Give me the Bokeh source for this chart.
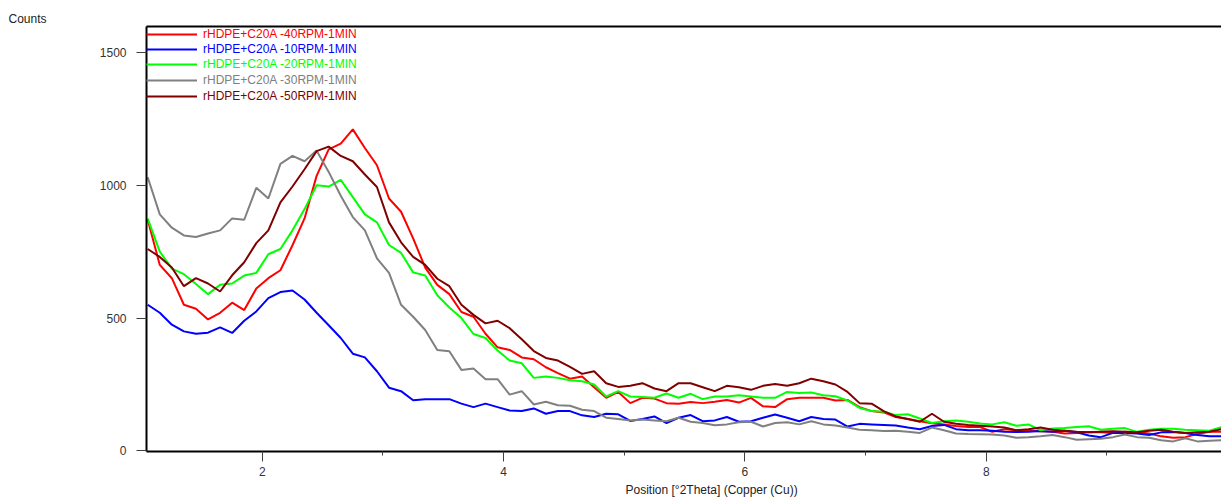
import numpy as np
from bokeh.plotting import figure
from bokeh.models import (Legend, LegendItem, LinearAxis, FixedTicker,
                          Range1d, Title)
from bokeh.embed import file_html
from bokeh.resources import INLINE

# ---- data (°2Theta positions and counts) ----
two_theta = np.round(np.arange(1.05, 9.96, 0.1), 2)

rpm40 = [870, 700, 650, 550, 535, 495, 520, 558, 530, 611,
         650, 680, 774, 875, 1035, 1135, 1156, 1210, 1140, 1075,
         950, 900, 800, 690, 625, 590, 523, 505, 441, 390,
         380, 352, 345, 315, 293, 272, 280, 240, 200, 222,
         180, 200, 197, 180, 178, 184, 180, 185, 192, 182,
         200, 168, 165, 195, 200, 200, 200, 190, 192, 165,
         150, 145, 128, 120, 112, 104, 100, 94, 90, 90,
         72, 82, 78, 76, 74, 72, 66, 68, 71, 70,
         68, 72, 70, 66, 55, 50, 52, 64, 72, 72]

rpm10 = [550, 520, 475, 450, 441, 445, 465, 444, 490, 525,
         575, 598, 604, 570, 520, 473, 425, 366, 352, 300,
         238, 225, 191, 195, 195, 195, 178, 165, 178, 165,
         152, 150, 160, 140, 150, 150, 134, 128, 140, 138,
         113, 120, 130, 105, 125, 135, 112, 115, 128, 110,
         112, 125, 137, 125, 112, 128, 120, 118, 92, 102,
         100, 98, 96, 88, 82, 94, 98, 82, 78, 78,
         76, 72, 71, 72, 75, 72, 76, 70, 58, 52,
         68, 68, 66, 60, 70, 71, 68, 60, 55, 55]

rpm20 = [874, 750, 686, 665, 628, 590, 625, 630, 660, 670,
         740, 760, 830, 910, 1000, 995, 1020, 955, 890, 860,
         775, 745, 672, 660, 586, 540, 500, 440, 425, 378,
         340, 330, 275, 280, 275, 266, 262, 250, 205, 225,
         205, 203, 200, 216, 200, 215, 195, 205, 205, 210,
         205, 200, 200, 222, 218, 220, 210, 206, 190, 162,
         150, 148, 135, 138, 122, 105, 112, 115, 110, 103,
         100, 108, 95, 100, 78, 85, 86, 90, 93, 80,
         84, 86, 72, 80, 84, 84, 80, 78, 76, 90]

rpm30 = [1030, 890, 840, 811, 805, 818, 830, 875, 870, 990,
         950, 1080, 1110, 1090, 1130, 1050, 960, 880, 830, 725,
         670, 550, 505, 455, 380, 375, 305, 310, 270, 270,
         212, 225, 175, 185, 172, 170, 155, 150, 125, 120,
         115, 118, 115, 112, 125, 110, 105, 97, 100, 108,
         110, 92, 105, 108, 100, 112, 100, 96, 88, 80,
         78, 75, 76, 72, 68, 88, 78, 66, 64, 63,
         62, 58, 50, 52, 55, 60, 52, 42, 44, 46,
         52, 62, 52, 50, 40, 36, 48, 36, 38, 40]

rpm50 = [760, 730, 690, 620, 650, 630, 600, 661, 710, 782,
         830, 935, 995, 1060, 1128, 1145, 1110, 1090, 1040, 993,
         860, 785, 730, 700, 648, 620, 550, 512, 480, 490,
         462, 420, 376, 350, 340, 316, 290, 300, 255, 241,
         245, 255, 235, 225, 255, 255, 240, 225, 245, 240,
         230, 245, 252, 245, 255, 272, 262, 250, 222, 180,
         178, 150, 130, 120, 110, 140, 110, 102, 98, 95,
         92, 88, 78, 82, 88, 80, 76, 72, 70, 72,
         74, 72, 70, 76, 80, 72, 68, 70, 72, 82]

names = ["rHDPE+C20A -40RPM-1MIN", "rHDPE+C20A -10RPM-1MIN",
         "rHDPE+C20A -20RPM-1MIN", "rHDPE+C20A -30RPM-1MIN",
         "rHDPE+C20A -50RPM-1MIN"]
series = [rpm40, rpm10, rpm20, rpm30, rpm50]
colors = ["#FF0000", "#0000FF", "#00FF00", "#808080", "#800000"]

x_ticks = [2, 4, 6, 8]
x_minor = [3, 5, 7, 9]
y_ticks = [0, 500, 1000, 1500]

FONT = "Liberation Sans"

p = figure(width=1221, height=501, output_backend="svg", toolbar_location=None,
           x_range=Range1d(1.04, 9.95), y_range=Range1d(-2, 1597),
           min_border_left=146, min_border_right=0, min_border_top=26,
           min_border_bottom=50)
p.xgrid.visible = False
p.ygrid.visible = False
p.outline_line_color = None
p.background_fill_color = "white"

for ax in (p.xaxis[0], p.yaxis[0]):
    ax.axis_line_color = "black"
    ax.axis_line_width = 2
    ax.major_tick_line_color = "#404040"
    ax.major_tick_line_width = 1
    ax.major_tick_in = 0
    ax.major_tick_out = 10
    ax.major_label_text_font = FONT
    ax.major_label_text_font_size = "12px"
    ax.major_label_text_color = "#333333"

p.xaxis.ticker = FixedTicker(ticks=x_ticks, minor_ticks=x_minor)
p.xaxis.minor_tick_in = 0
p.xaxis.minor_tick_out = 4
p.xaxis.minor_tick_line_color = "#404040"
p.xaxis.major_label_standoff = 5

p.yaxis.ticker = FixedTicker(ticks=y_ticks, minor_ticks=[])
p.yaxis.minor_tick_line_color = None
p.yaxis.major_label_standoff = 10

top = LinearAxis(ticker=FixedTicker(ticks=[], minor_ticks=[]),
                 major_label_text_font_size="0px", axis_line_width=2,
                 axis_line_color="black", major_tick_line_color=None,
                 minor_tick_line_color=None, major_label_standoff=0)
p.add_layout(top, "above")

renderers = []
for vals, c in zip(series, colors):
    r = p.line(two_theta, vals, line_color=c, line_width=2)
    renderers.append(r)

leg_y = [410, 395, 380, 364, 348]
for name, c, r, ly in zip(names, colors, renderers, leg_y):
    leg = Legend(items=[LegendItem(label=name, renderers=[r])],
                 location=(0, ly), glyph_width=51, glyph_height=14,
                 label_height=14, label_standoff=6, padding=0, margin=0,
                 spacing=0, border_line_color=None, background_fill_alpha=0,
                 label_text_color=c, label_text_font=FONT,
                 label_text_font_size="12px")
    p.add_layout(leg)

p.add_layout(Title(text="Counts", align="left", offset=-138,
                   text_font=FONT, text_font_size="12px",
                   text_font_style="normal", text_color="#222222",
                   standoff=2), "above")
p.add_layout(Title(text="Position [°2Theta] (Copper (Cu))", align="left",
                   offset=479, text_font=FONT, text_font_size="12px",
                   text_font_style="normal", text_color="#222222",
                   standoff=5), "below")

open("out.html", "w").write(file_html(p, INLINE))
